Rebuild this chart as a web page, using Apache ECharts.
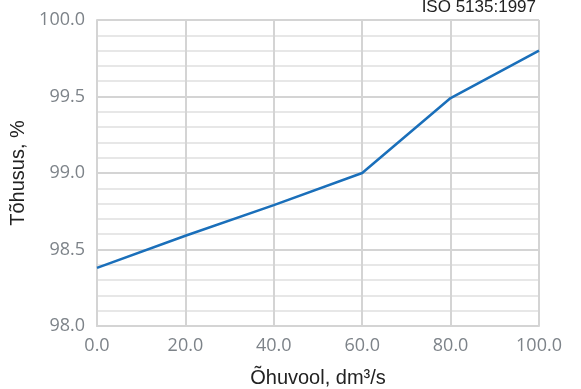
<!DOCTYPE html>
<html>
    <head>
        <meta charset="utf-8">
        <script src="https://cdn.jsdelivr.net/npm/echarts@6/dist/echarts.min.js"></script>
    </head>
    <body style="margin:0">
        <style>
            html, body, #main {
                width: 100%;
                height: 100%;
                margin: 0;
            }
        </style>
        <div id="main"></div>
        <script>
            // airflow, dm3/s
            var airflow = [0, 20, 40, 60, 80, 100];
            // efficiency, %
            var efficiency = [98.38, 98.59, 98.79, 99.0, 99.49, 99.8];

            var points = airflow.map(function (x, i) {
                return [x, efficiency[i]];
            });

            var chart = echarts.init(document.getElementById('main'));

            chart.setOption({
                animation: false,
                title: {
                    text: 'ISO 5135:1997',
                    right: 40,
                    top: -6,
                    textStyle: {
                        fontFamily: 'Liberation Sans',
                        fontWeight: 'normal',
                        fontSize: 17,
                        color: '#222'
                    }
                },
                grid: {
                    left: 97,
                    right: 42,
                    top: 20,
                    bottom: 63,
                    outerBoundsMode: 'none'
                },
                xAxis: {
                    type: 'value',
                    min: 0,
                    max: 100,
                    interval: 20,
                    name: 'Õhuvool, dm³/s',
                    nameLocation: 'middle',
                    nameGap: 42,
                    nameTextStyle: {
                        fontFamily: 'Liberation Sans',
                        fontSize: 20,
                        color: '#222'
                    },
                    axisLine: { show: true, lineStyle: { color: '#d4d4d4', width: 2 } },
                    axisTick: { show: false },
                    axisLabel: {
                        margin: 11,
                        fontFamily: 'Open Sans',
                        fontSize: 18,
                        color: '#7d8389',
                        formatter: function (v) { return v.toFixed(1); }
                    },
                    splitLine: { show: true, lineStyle: { color: '#d4d4d4', width: 2 } }
                },
                yAxis: {
                    type: 'value',
                    min: 98,
                    max: 100,
                    interval: 0.5,
                    name: 'Tõhusus, %',
                    nameLocation: 'middle',
                    nameGap: 58,
                    nameTextStyle: {
                        fontFamily: 'Liberation Sans',
                        fontSize: 20,
                        color: '#222'
                    },
                    axisLine: { show: true, lineStyle: { color: '#d4d4d4', width: 2 } },
                    axisTick: { show: false },
                    axisLabel: {
                        margin: 12,
                        fontFamily: 'Open Sans',
                        fontSize: 18,
                        color: '#7d8389',
                        formatter: function (v) { return v.toFixed(1); }
                    },
                    splitLine: { show: true, lineStyle: { color: '#d4d4d4', width: 2 } },
                    minorTick: { show: false, splitNumber: 5 },
                    minorSplitLine: { show: true, lineStyle: { color: '#e0e0e0', width: 1.5 } }
                },
                series: [{
                    type: 'line',
                    data: points,
                    symbol: 'none',
                    lineStyle: { color: '#1a6fba', width: 2.5 }
                }]
            });
        </script>
    </body>
</html>
